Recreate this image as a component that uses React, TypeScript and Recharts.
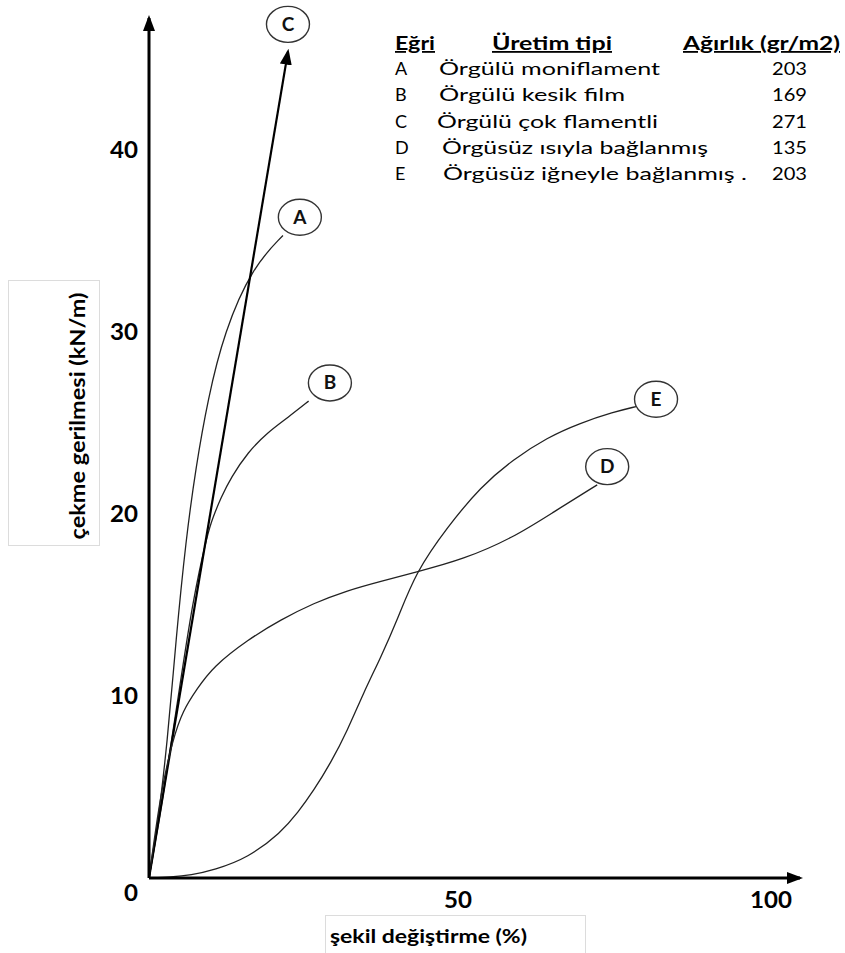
import React from 'react'
import { LineChart, Line, XAxis, YAxis, ReferenceDot } from 'recharts'

// strain (%) / stress (kN/m)
const aStrain = [0, 1.1, 3.0, 4.3, 5.9, 7.5, 9.4, 12.0, 16.6, 21.4]
const aStress = [0, 2.1, 7.6, 13.1, 18.6, 22.6, 26.3, 30.0, 33.6, 35.3]

const bStrain = [0, 2.2, 4.6, 7.0, 9.4, 10.2, 11.5, 13.1, 15.8, 19.0, 22.2, 25.5]
const bStress = [0, 4.3, 9.8, 15.3, 19.0, 19.8, 20.9, 22.0, 23.4, 24.5, 25.3, 26.2]

const cStrain = [0, 22.2]
const cStress = [0, 45.4]

const dStrain = [0, 1.9, 3.8, 5.4, 7.7, 10.2, 15.8, 21.1, 26.3, 31.7, 37.0, 42.6, 50.2, 58.2, 64.6, 71.6]
const dStress = [0, 4.8, 7.6, 9.2, 10.4, 11.6, 13.1, 14.2, 15.1, 15.8, 16.3, 16.8, 17.5, 18.7, 20.1, 21.6]

const eStrain = [0, 3.5, 6.7, 10.4, 15.8, 21.1, 23.8, 26.3, 29.0, 31.7, 34.3, 37.0, 39.7, 42.6, 47.7, 53.0, 58.2, 63.6, 68.9, 74.2, 77.8]
const eStress = [0, 0.05, 0.16, 0.44, 1.1, 2.5, 3.6, 4.8, 6.3, 8.1, 10.2, 12.1, 14.2, 16.8, 19.3, 21.5, 23.0, 24.2, 25.0, 25.6, 25.9]

// curve tags (circled letters)
const curveIds = ['A', 'B', 'C', 'D', 'E']
const tagStrain = [24.1, 28.9, 22.2, 73.2, 81.0]
const tagStress = [36.3, 27.2, 46.9, 22.6, 26.3]

// legend table
const legendHeader = ['Eğri', 'Üretim tipi', 'Ağırlık (gr/m2)']
const productionTypes = [
  'Örgülü moniflament',
  'Örgülü kesik film',
  'Örgülü çok flamentli',
  'Örgüsüz ısıyla bağlanmış',
  'Örgüsüz iğneyle bağlanmış .',
]
const weights = [203, 169, 271, 135, 203]

const xTicks = [50, 100]
const yTicks = [0, 10, 20, 30, 40]

const toPoints = (xs: number[], ys: number[]) => xs.map((x, i) => ({ x, y: ys[i] }))

const series = [
  { id: 'A', data: toPoints(aStrain, aStress), width: 1.3 },
  { id: 'B', data: toPoints(bStrain, bStress), width: 1.3 },
  { id: 'C', data: toPoints(cStrain, cStress), width: 2.2 },
  { id: 'D', data: toPoints(dStrain, dStress), width: 1.3 },
  { id: 'E', data: toPoints(eStrain, eStress), width: 1.3 },
]

const FONT = 'Lato, "Open Sans", sans-serif'

// legend layout (pixels)
const headerX = [395, 492, 683]
const headerW = [40, 120, 157]
const nameX = [439, 439, 437, 442, 443]
const nameW = [221, 186, 221, 266, 304]

function YTick(props: any) {
  const { x, y, payload } = props
  const label = String(payload.value)
  const shift = payload.value === 0 ? 15 : 0
  return (
    <text
      x={x}
      y={y + 8 + shift}
      textAnchor="end"
      fontFamily={FONT}
      fontWeight={700}
      fontSize={22}
      fill="#000"
      textLength={label.length * 14}
      lengthAdjust="spacingAndGlyphs"
    >
      {label}
    </text>
  )
}

function XTick(props: any) {
  const { x, y, payload } = props
  const label = String(payload.value)
  return (
    <text
      x={x - (label.length * 14) / 2 - 4}
      y={y + 30}
      fontFamily={FONT}
      fontWeight={700}
      fontSize={22}
      fill="#000"
      textLength={label.length * 14}
      lengthAdjust="spacingAndGlyphs"
    >
      {label}
    </text>
  )
}

const tagShape = (letter: string) => (props: any) => (
  <g>
    <ellipse cx={props.cx} cy={props.cy} rx={21.5} ry={18} fill="#fff" stroke="#333" strokeWidth={1.4} />
    <text
      x={props.cx}
      y={props.cy + 6.5}
      textAnchor="middle"
      fontFamily={FONT}
      fontWeight={700}
      fontSize={19}
      fill="#111"
    >
      {letter}
    </text>
  </g>
)

export default function App() {
  return (
    <div style={{ position: 'absolute', left: 0, top: 0, width: 845, height: 953, background: '#fff' }}>
      <LineChart width={845} height={953} margin={{ top: 18, right: 45, left: 0, bottom: 0 }}>
        <defs>
          <marker
            id="arrowHead"
            viewBox="0 0 16 12"
            refX={13}
            refY={6}
            markerWidth={16}
            markerHeight={12}
            markerUnits="userSpaceOnUse"
            orient="auto-start-reverse"
          >
            <path d="M0,0 L16,6 L0,12 z" fill="#000" />
          </marker>
        </defs>
        <XAxis
          type="number"
          dataKey="x"
          domain={[0, 104]}
          ticks={xTicks}
          height={75}
          tickSize={0}
          tickMargin={0}
          tickLine={false}
          tick={<XTick />}
          axisLine={{ stroke: '#000', strokeWidth: 3, markerEnd: 'url(#arrowHead)' }}
          allowDataOverflow
        />
        <YAxis
          type="number"
          dataKey="y"
          domain={[0, 47.25]}
          ticks={yTicks}
          width={149}
          tickSize={0}
          tickMargin={11}
          tickLine={false}
          tick={<YTick />}
          axisLine={{ stroke: '#000', strokeWidth: 3, markerStart: 'url(#arrowHead)' }}
          allowDataOverflow
        />
        {series.map((s) => (
          <Line
            key={s.id}
            data={s.data}
            dataKey="y"
            type={s.id === 'C' ? 'linear' : 'basis'}
            stroke={s.id === 'C' ? '#000' : '#222'}
            strokeWidth={s.width}
            dot={false}
            activeDot={false}
            isAnimationActive={false}
            markerEnd={s.id === 'C' ? 'url(#arrowHead)' : undefined}
          />
        ))}
        {curveIds.map((id, i) => (
          <ReferenceDot
            key={id}
            x={tagStrain[i]}
            y={tagStress[i]}
            ifOverflow="visible"
            shape={tagShape(id)}
          />
        ))}
      </LineChart>

      <svg
        width={845}
        height={953}
        style={{ position: 'absolute', left: 0, top: 0, pointerEvents: 'none' }}
      >
        {/* legend table */}
        {legendHeader.map((h, i) => (
          <text
            key={h}
            x={headerX[i]}
            y={50}
            fontFamily={FONT}
            fontWeight={700}
            fontSize={18}
            fill="#000"
            textLength={headerW[i]}
            lengthAdjust="spacingAndGlyphs"
            style={{ textDecoration: 'underline' }}
          >
            {h}
          </text>
        ))}
        {curveIds.map((id, i) => (
          <g key={id} fontFamily={FONT} fontSize={18} fill="#000">
            <text x={395} y={75 + i * 26.3}>{id}</text>
            <text x={nameX[i]} y={75 + i * 26.3} textLength={nameW[i]} lengthAdjust="spacingAndGlyphs">
              {productionTypes[i]}
            </text>
            <text x={772} y={75 + i * 26.3} textLength={35} lengthAdjust="spacingAndGlyphs">
              {weights[i]}
            </text>
          </g>
        ))}

        {/* y axis title */}
        <rect x={8.5} y={280.5} width={91} height={265} fill="none" stroke="#dcdcdc" />
        <text
          transform="translate(85,416) rotate(-90)"
          textAnchor="middle"
          fontFamily={FONT}
          fontWeight={700}
          fontSize={20}
          fill="#000"
          textLength={247}
          lengthAdjust="spacingAndGlyphs"
        >
          çekme gerilmesi (kN/m)
        </text>

        {/* x axis title */}
        <rect x={325.5} y={915.5} width={260} height={40} fill="none" stroke="#dcdcdc" />
        <text
          x={330}
          y={943}
          fontFamily={FONT}
          fontWeight={700}
          fontSize={18}
          fill="#000"
          textLength={197}
          lengthAdjust="spacingAndGlyphs"
        >
          şekil değiştirme (%)
        </text>
      </svg>
    </div>
  )
}
